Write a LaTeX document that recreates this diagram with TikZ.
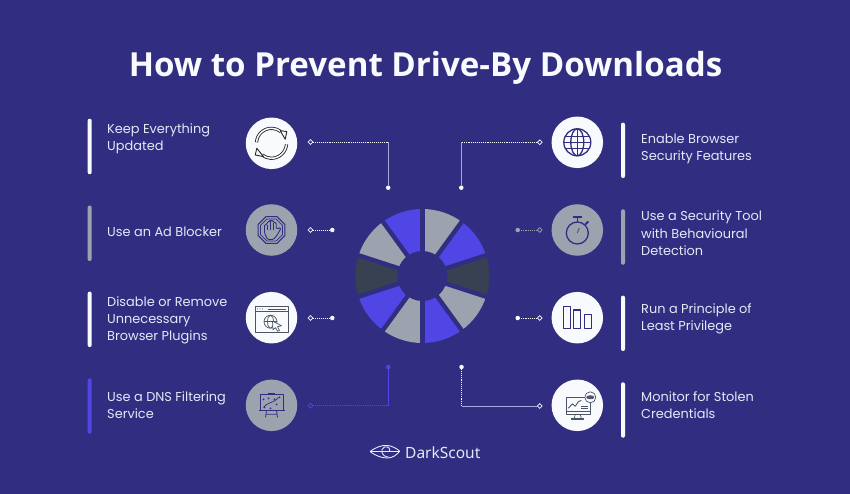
\documentclass[tikz,border=0pt]{standalone}
\usepackage{fontspec}
\usepackage{tikz}
\usetikzlibrary{shapes.geometric}
\setmainfont{Poppins}
\newfontfamily\titlefont{Open Sans}
\newfontfamily\logofont{Noto Sans}

\definecolor{pagebg}{HTML}{312E81}
\definecolor{wheelblue}{HTML}{4F46E5}
\definecolor{wheelgray}{HTML}{9CA3AF}
\definecolor{wheeldark}{HTML}{374151}
\definecolor{softwhite}{HTML}{F9FAFE}
\definecolor{textwhite}{HTML}{E6E7F7}
\definecolor{linklav}{HTML}{A8A8DE}
\definecolor{iconline}{HTML}{4B5563}

\tikzset{
  icon disc/.style={circle, minimum size=51.5pt, inner sep=0pt},
  side bar/.style={rectangle, rounded corners=2pt, minimum width=4pt, minimum height=55.5pt, inner sep=0pt},
  item text/.style={anchor=west, align=left, inner sep=0pt, text=textwhite, font=\fontsize{12.9}{17.4}\selectfont},
  link ring/.style={diamond, draw=#1, fill=pagebg, line width=0.7pt, minimum size=5pt, inner sep=0pt},
  link dot/.style={circle, fill=#1, minimum size=4.5pt, inner sep=0pt},
  link dots/.style={draw=#1, line width=0.8pt, dash pattern=on 0.9pt off 1pt},
  link line/.style={draw=#1, line width=0.8pt},
  navy icon/.style={draw=pagebg, line width=1.3pt, line join=round},
  gray icon/.style={draw=iconline, line width=0.7pt, line join=round}
}

\begin{document}
\begin{tikzpicture}[x=1pt, y=1pt]

\fill [pagebg] (0,0) rectangle (850,-494);
\useasboundingbox (0,0) rectangle (850,-494);

\node [text=softwhite, font=\titlefont\bfseries\fontsize{33.1}{38}\selectfont] (title) at (425.5,-68) {How to Prevent Drive-By Downloads};

% wheel
\coordinate (hub) at (422.3,-276);
\begin{scope}[shift={(hub)}]
\foreach \a/\c in {0/wheeldark,36/wheelblue,72/wheelgray,108/wheelblue,144/wheelgray,180/wheeldark,216/wheelblue,252/wheelgray,288/wheelblue,324/wheelgray}
  \fill [\c] (0,0) -- (\a-18:67) arc [start angle=\a-18, end angle=\a+18, radius=67] -- cycle;
\foreach \a in {18,54,90,126,162}
  \draw [pagebg, line width=4.4pt] (\a:70) -- (\a+180:70);
\fill [pagebg] (0,0) circle (25);
\end{scope}

% discs and bars
\foreach \m/\y/\c in {1/143.3/softwhite,2/230/wheelgray,3/317.7/softwhite,4/405.3/wheelgray}
  \node [icon disc, fill=\c] (disc-\m) at (271.5,-\y) {};

\foreach \m/\y/\c in {5/142.3/softwhite,6/230/wheelgray,7/317.7/softwhite,8/405.3/softwhite}
  \node [icon disc, fill=\c] (disc-\m) at (577.3,-\y) {};

\foreach \m/\y/\c in {1/146.5/softwhite,2/233.3/wheelgray,3/319.3/softwhite,4/406/wheelblue}
  \node [side bar, fill=\c] (bar-\m) at (89.7,-\y) {};

\foreach \m/\y/\c in {5/150.3/softwhite,6/237/wheelgray,7/323.3/softwhite,8/410/softwhite}
  \node [side bar, fill=\c] (bar-\m) at (623,-\y) {};

% labels
\foreach \m/\y/\l in {1/138.5/{Keep Everything\\Updated},2/232/{Use an Ad Blocker},3/320.3/{Disable or Remove\\Unnecessary\\Browser Plugins},4/405.3/{Use a DNS Filtering\\Service}}
  \node [item text] (label-\m) at (107,-\y) {\l};

\foreach \m/\y/\l in {5/148.8/{Enable Browser\\Security Features},6/233.2/{Use a Security Tool\\with Behavioural\\Detection},7/318.8/{Run a Principle of\\Least Privilege},8/405.3/{Monitor for Stolen\\Credentials}}
  \node [item text] (label-\m) at (641,-\y) {\l};

% connectors
\foreach \m/\rx/\ry/\dx/\dy/\c in {1/310.5/142/388.2/187.7/softwhite,2/310.5/230/332.3/230/softwhite,3/310.5/318/332.3/318/softwhite,4/310.5/405.7/388.3/367/wheelblue,5/539.7/142.3/461.3/187.7/softwhite,6/539.7/230/517.7/230/wheelgray,7/539.7/318/517.7/318/softwhite,8/539.7/406/461.5/367/softwhite} {
  \node [link ring=\c] (ring-\m) at (\rx,-\ry) {};
  \node [link dot=\c] (dot-\m) at (\dx,-\dy) {};
}

\foreach \m/\c in {2/softwhite,3/softwhite,6/wheelgray,7/softwhite}
  \draw [link dots=\c] (ring-\m) -- (dot-\m);

\coordinate (bend-1) at (dot-1 |- ring-1);
\coordinate (bend-4) at (dot-4 |- ring-4);
\coordinate (bend-5) at (dot-5 |- ring-5);
\coordinate (bend-8) at (dot-8 |- ring-8);

\draw [link dots=softwhite] (ring-1) -- (bend-1);
\draw [link line=linklav] (bend-1) -- (dot-1);
\draw [link dots=wheelblue] (ring-4) -- (bend-4);
\draw [link line=wheelblue] (bend-4) -- (dot-4);
\draw [link dots=softwhite] (ring-5) -- (bend-5);
\draw [link line=linklav] (bend-5) -- (dot-5);
\draw [link line=linklav] (ring-8) -- (bend-8);
\draw [link dots=softwhite] (bend-8) -- (dot-8);

% refresh icon
\begin{scope}[shift={(disc-1)}]
\draw [black!85, line width=0.85pt, double=softwhite, double distance=1.5pt] (-15,1) arc [start angle=176, end angle=52, radius=15];
\draw [black!85, line width=0.85pt, double=softwhite, double distance=1.5pt] (15,-1) arc [start angle=-4, end angle=-128, radius=15];
\draw [black!85, fill=softwhite, line width=0.9pt, line join=round] (8.7,12.7) -- (15.3,11.7) -- (13.7,4) -- cycle;
\draw [black!85, fill=softwhite, line width=0.9pt, line join=round] (-14.7,-5) -- (-16.3,-11.7) -- (-8,-13.3) -- cycle;
\end{scope}

% stop hand icon
\begin{scope}[shift={(disc-2)}]
\draw [navy icon, line width=1pt] (22.5:14.5) \foreach \t in {67.5,112.5,...,337.5} { -- (\t:14.5)} -- cycle;
\draw [navy icon, line width=0.8pt] (22.5:12) \foreach \t in {67.5,112.5,...,337.5} { -- (\t:12)} -- cycle;
\draw [navy icon, fill=wheelgray, line width=0.9pt, rounded corners=1.2pt] (-7,-3) -- (-7,5.5) -- (-4.3,5.5) -- (-4.3,8.5) -- (-1.3,8.5) -- (-1.3,9.5) -- (1.7,9.5) -- (1.7,7.5) -- (4.7,7.5) -- (4.7,1) -- (9,2.5) -- (9,0.5) -- (5,-6) -- (2,-9.5) -- (-4,-9.5) -- cycle;
\draw [navy icon, line width=0.8pt] (-4.3,5.5) -- (-4.3,0) (-1.3,8.5) -- (-1.3,0) (1.7,7.5) -- (1.7,0);
\end{scope}

% browser icon
\begin{scope}[shift={(disc-3)}]
\draw [gray icon] (-16.5,11) rectangle (17,-15);
\draw [gray icon] (-16.5,6.5) -- (17,6.5);
\foreach \x in {-14,-11.5,-9}
  \fill [iconline] (\x,8.8) circle (0.6);
\draw [gray icon] (-4,8.8) -- (14,8.8);
\draw [gray icon] (-1,-4) circle (6.5);
\draw [gray icon] (-1,-4) ellipse (3 and 6.5);
\draw [gray icon] (-7.5,-4) -- (5.5,-4);
\draw [gray icon, fill=softwhite] (1,-3.5) -- (10,-8) -- (6,-9) -- (8,-13) -- (6,-13.5) -- (4,-10) -- (1.5,-12) -- cycle;
\end{scope}

% strategy board icon
\begin{scope}[shift={(disc-4)}]
\draw [navy icon, line width=0.9pt] (-11.5,11) rectangle (11.5,-5);
\draw [navy icon, line width=1.2pt] (-13,-5) -- (13,-5);
\draw [navy icon, line width=0.8pt] (-3,11) -- (-3,12) -- (3,12) -- (3,11);
\draw [navy icon, line width=0.8pt] (-5,-5) -- (-6,-12) (5,-5) -- (6,-12) (-5.5,-9) -- (5.5,-9);
\draw [navy icon, line width=0.7pt] (-8,-2) .. controls (-3,4) and (3,2) .. (7,8);
\foreach \x/\y in {-8/6,-3/7,-7/-2,-1/-3,5/1,3/6,8/8}
  \fill [pagebg] (\x,\y) circle (1);
\end{scope}

% globe icon
\begin{scope}[shift={(disc-5)}]
\draw [navy icon] (0,0) circle (13.5);
\draw [navy icon] (0,0) ellipse (6.5 and 13.5);
\draw [navy icon] (0,13.5) -- (0,-13.5);
\draw [navy icon] (-13.5,0) -- (13.5,0);
\draw [navy icon] (-11.5,6) -- (11.5,6) (-11.5,-6) -- (11.5,-6);
\end{scope}

% stopwatch icon
\begin{scope}[shift={(disc-6)}]
\draw [navy icon] (0,-3) circle (11);
\draw [navy icon] (0,8) -- (0,12);
\draw [navy icon, line width=1.8pt] (-4.5,12.7) -- (4.5,12.7);
\draw [navy icon, line width=2pt] (8,5.5) -- (11,8.5);
\draw [navy icon, draw=iconline, line width=0.9pt] (0,-3) -- (2,2);
\end{scope}

% bar chart icon
\begin{scope}[shift={(disc-7)}]
\draw [navy icon] (-14,11) rectangle (-6.7,-10.7);
\draw [navy icon] (-3.7,7.7) rectangle (3.3,-10.7);
\draw [navy icon] (7,3.3) rectangle (14,-10.7);
\end{scope}

% monitor icon
\begin{scope}[shift={(disc-8)}]
\draw [gray icon] (-11,8.3) rectangle (13.3,-9);
\draw [gray icon] (-11,-6) -- (13.3,-6);
\draw [gray icon] (-2,-9) -- (-3,-13) (3,-9) -- (4,-13);
\draw [gray icon] (-6,-13) rectangle (6,-14.5);
\draw [gray icon, line width=0.9pt] (-9,-3) -- (-5,1.5) -- (-2,-1) -- (1,3.5) -- (4,5);
\draw [gray icon, line width=0.9pt] (4,-1) -- (10.5,-1) (4,-3.5) -- (10.5,-3.5);
\draw [gray icon, fill=softwhite] (13,8) circle (5.5);
\draw [gray icon, fill=iconline] (13,8) ellipse (3.6 and 1.6);
\end{scope}

% logo
\coordinate (logomark) at (384.5,-452);
\begin{scope}[shift={(logomark)}, draw=textwhite, line width=0.9pt]
\draw (-14.5,0.5) .. controls (-8,5) and (-3,7) .. (3,6.5) .. controls (8,6) and (12,3.5) .. (15,1);
\draw (-14.5,0.5) -- (15,0.5);
\draw (-14,0) .. controls (-8,-4) and (-3,-6) .. (3,-6) .. controls (8,-6) and (12,-3) .. (15,0.5);
\draw (4,-5) .. controls (-3,-5) and (-5,3) .. (0,5) .. controls (4,6) and (6,3) .. (5,0.5);
\end{scope}
\node [anchor=west, inner sep=0pt, text=textwhite, font=\logofont\fontsize{15.5}{18}\selectfont] (logotext) at (405,-452.3) {DarkScout};

\end{tikzpicture}
\end{document}
